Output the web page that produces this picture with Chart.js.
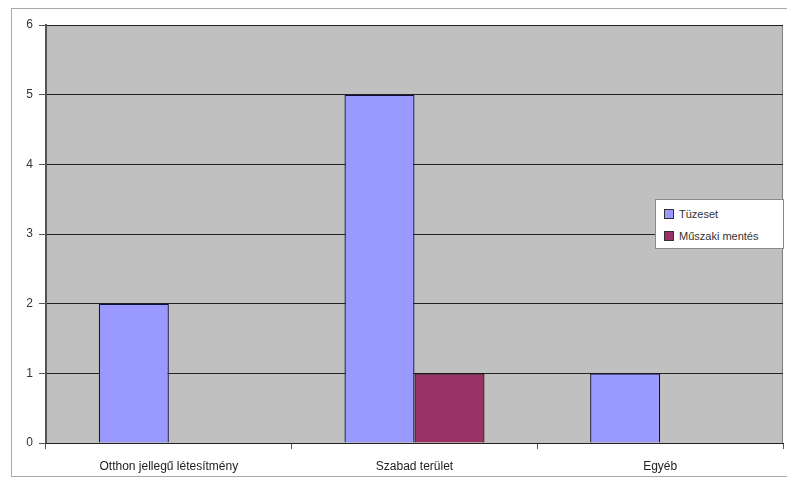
<!DOCTYPE html>
<html>
<head>
<meta charset="utf-8">
<script src="https://cdn.jsdelivr.net/npm/chart.js@4.4.1/dist/chart.umd.min.js"></script>
<style>
  html, body { margin: 0; padding: 0; background: #fff; }
  #wrap { position: relative; width: 787px; height: 480px; }
  #frame { position: absolute; left: 11px; top: 8px; width: 790px; height: 469px; border: 1px solid #a8a8a8; box-sizing: border-box; }
  #legend { position: absolute; left: 655px; top: 199px; width: 129px; height: 50px; background: #fff;
    border: 1px solid #8a8a8a; box-sizing: border-box; font-family: "Liberation Sans", Arial, sans-serif;
    font-size: 11px; color: #333; padding-top: 6px; }
  #legend div { height: 22px; line-height: 16px; padding-left: 8px; white-space: nowrap; }
  #legend span.sw { display: inline-block; width: 8px; height: 8px; border: 1px solid #333; margin-right: 5px; vertical-align: -1px; }
</style>
</head>
<body>
<div id="wrap">
  <div id="frame"></div>
  <canvas id="myChart" width="787" height="480"></canvas>
  <div id="legend"></div>
</div>
<script>
const categories = ["Otthon jellegű létesítmény", "Szabad terület", "Egyéb"];
const seriesNames = ["Tüzeset", "Műszaki mentés"];
const tuzeset = [2, 5, 1];
const muszaki = [0, 1, 0];
const yTicks = [0, 1, 2, 3, 4, 5, 6];
const colors = ["#9999ff", "#993366"];

const font = { family: '"Liberation Sans", Arial, sans-serif', size: 12 };

const plotBg = {
  id: "plotBg",
  beforeDraw(chart) {
    const a = chart.chartArea;
    const ctx = chart.ctx;
    ctx.save();
    ctx.fillStyle = "#c0c0c0";
    ctx.fillRect(a.left, a.top, a.right - a.left, a.bottom - a.top);
    ctx.strokeStyle = "#808080";
    ctx.lineWidth = 1;
    ctx.beginPath();
    ctx.moveTo(a.right - 0.5, a.top);
    ctx.lineTo(a.right - 0.5, a.bottom);
    ctx.stroke();
    ctx.restore();
  }
};

const ctx = document.getElementById("myChart");
let myChart = new Chart(ctx, {
  type: "bar",
  data: {
    labels: categories,
    datasets: [
      { label: seriesNames[0], data: tuzeset, backgroundColor: colors[0], borderColor: "#101038", borderWidth: 1.3,
        categoryPercentage: 0.57, barPercentage: 1 },
      { label: seriesNames[1], data: muszaki, backgroundColor: colors[1], borderColor: "#201018", borderWidth: 1.3,
        categoryPercentage: 0.57, barPercentage: 1 }
    ]
  },
  options: {
    responsive: false,
    animation: false,
    layout: { padding: { top: 25, right: 4, left: 0, bottom: 0 } },
    plugins: { legend: { display: false }, tooltip: { enabled: false } },
    scales: {
      y: {
        min: 0, max: 6,
        afterFit(scale) { scale.width = 46; },
        afterBuildTicks(scale) { scale.ticks = yTicks.map(v => ({ value: v })); },
        ticks: { font: font, color: "#333", padding: 6 },
        grid: { color: "#222", lineWidth: 1, tickLength: 7, tickColor: "#555" },
        border: { color: "#555", width: 2 }
      },
      x: {
        afterFit(scale) { scale.height = 37; },
        ticks: { font: font, color: "#222", padding: 10 },
        grid: { drawOnChartArea: false, tickLength: 6, color: "#555" },
        border: { color: "#222", width: 1 }
      }
    }
  },
  plugins: [plotBg]
});

const legend = document.getElementById("legend");
seriesNames.forEach((name, i) => {
  let row = document.createElement("div");
  row.innerHTML = `<span class="sw" style="background:${colors[i]}"></span>${name}`;
  legend.appendChild(row);
});
</script>
</body>
</html>
